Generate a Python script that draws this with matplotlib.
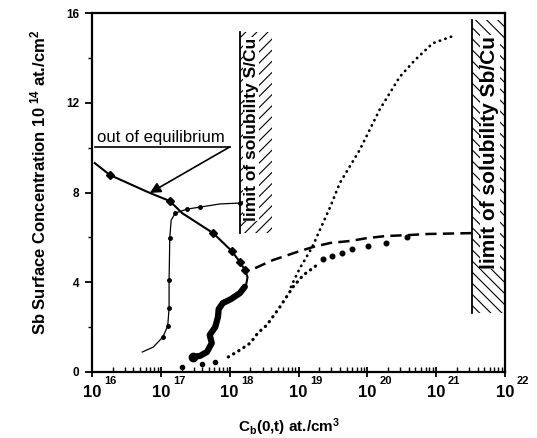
import numpy as np
import matplotlib
matplotlib.use('Agg')
import matplotlib.pyplot as plt
from matplotlib.ticker import FixedLocator, NullFormatter

plt.rcParams['font.family'] = ['Liberation Sans', 'DejaVu Sans']
plt.rcParams['mathtext.default'] = 'regular'
plt.rcParams['hatch.linewidth'] = 0.8

# x values are log10 of C_b(0,t) [at./cm3], y values in 1e14 at./cm2
eq_logc = [16.04, 16.26, 16.84, 17.13, 17.31, 17.76, 18.03, 18.15, 18.22, 18.26, 18.24, 18.18]
eq_ns = [9.31, 8.78, 7.98, 7.62, 7.08, 6.19, 5.39, 4.90, 4.55, 4.23, 3.90, 3.60]
diam_logc = [16.26, 17.13, 17.76, 18.03, 18.15, 18.22]
diam_ns = [8.78, 7.62, 6.19, 5.39, 4.90, 4.55]

blob_logc = [18.22, 18.15, 18.02, 17.90, 17.84, 17.83, 17.79, 17.71, 17.74, 17.67, 17.57, 17.47]
blob_ns = [3.80, 3.52, 3.25, 3.07, 2.80, 2.45, 2.00, 1.65, 1.29, 0.89, 0.72, 0.67]

scu_logc = [16.73, 16.89, 17.03, 17.10, 17.12, 17.12, 17.13, 17.15, 17.21, 17.38, 17.57, 17.86, 18.15]
scu_ns = [0.89, 1.11, 1.56, 2.05, 2.85, 4.10, 5.97, 6.77, 7.08, 7.26, 7.35, 7.49, 7.53]

steep_logc = [18.89, 18.95, 19.02, 19.09, 19.20, 19.31, 19.46, 19.60, 19.89, 20.18, 20.47, 20.69, 20.95, 21.27]
steep_ns = [3.79, 4.19, 4.63, 4.99, 5.57, 6.33, 7.35, 8.42, 9.90, 11.70, 13.15, 13.90, 14.65, 15.00]

low_sparse1_logc = [17.31, 17.60, 17.79]
low_sparse1_ns = [0.22, 0.36, 0.45]
low_dense_logc = [17.98, 18.15, 18.30, 18.41, 18.54, 18.73, 18.92, 19.07, 19.27]
low_dense_ns = [0.67, 0.98, 1.29, 1.74, 2.09, 2.90, 3.79, 4.32, 4.77]
low_sparse2_logc = [19.36, 19.49, 19.63, 19.78, 20.01, 20.27, 20.58]
low_sparse2_ns = [5.04, 5.17, 5.30, 5.48, 5.61, 5.75, 6.02]

dash_logc = [18.37, 18.63, 18.98, 19.21, 19.46, 19.75, 20.00, 20.27, 20.58, 20.87, 21.52]
dash_ns = [4.63, 4.99, 5.35, 5.57, 5.75, 5.84, 5.97, 6.06, 6.10, 6.15, 6.19]

scu_box = (18.15, 18.62, 6.2, 15.15)
sbcu_box = (21.52, 22.0, 2.63, 15.69)

x_exponents = [16, 17, 18, 19, 20, 21, 22]
y_major = [0, 4, 8, 12, 16]
y_minor = [2, 6, 10, 14]


def p(a):
    return 10 ** np.array(a)


fig = plt.figure(figsize=(5.37, 4.38), dpi=100)
ax = fig.add_axes([92 / 537, 1 - 372 / 438, 413 / 537, 359 / 438])
ax.set_xscale('log')
ax.set_xlim(1e16, 1e22)
ax.set_ylim(0, 16)

# limit of solubility boxes
for (x0, x1, y0, y1), h in [(scu_box, '///'), (sbcu_box, '\\\\\\')]:
    ax.fill_betweenx([y0, y1], 10 ** x0, 10 ** x1, facecolor='none',
                     edgecolor='k', hatch=h, linewidth=0)
    ax.plot([10 ** x0, 10 ** x0], [y0, y1], color='k', lw=1.3)

ax.text(10 ** 18.31, 10.83, 'limit of solubility S/Cu', rotation=90, ha='center', va='center',
        fontsize=12.5, fontweight='bold', bbox=dict(facecolor='white', edgecolor='none', pad=0.5))
ax.text(10 ** 21.78, 9.8, 'limit of solubility Sb/Cu', rotation=90, ha='center', va='center',
        fontsize=15, fontweight='bold', bbox=dict(facecolor='white', edgecolor='none', pad=0.5))

# curves
ax.plot(p(eq_logc), eq_ns, color='k', lw=1.5)
ax.plot(p(diam_logc), diam_ns, 'D', color='k', markersize=4.5)
ax.plot(p(blob_logc), blob_ns, color='k', lw=4.5, solid_capstyle='round', solid_joinstyle='round')
ax.plot(p(blob_logc[-1:]), blob_ns[-1:], 'o', color='k', markersize=6)
ax.plot(p(scu_logc), scu_ns, color='k', lw=0.9, marker='o', markersize=2.5, markevery=[2, 3, 4, 5, 6, 8, 9, 10, 12])
ax.plot(p(steep_logc), steep_ns, color='k', lw=2.0, ls=(0, (0.1, 2.0)), dash_capstyle='round')
ax.plot(p(low_dense_logc), low_dense_ns, color='k', lw=2.3, ls=(0, (0.1, 1.8)), dash_capstyle='round')
ax.plot(p(low_sparse1_logc), low_sparse1_ns, 'o', color='k', markersize=3)
ax.plot(p(low_sparse2_logc), low_sparse2_ns, 'o', color='k', markersize=3.3)
ax.plot(p(dash_logc), dash_ns, color='k', lw=1.8, ls=(0, (4.5, 2.5)))

# annotation
ax.text(10 ** 16.07, 10.25, 'out of equilibrium', fontsize=12, ha='left', va='baseline')
ax.plot([10 ** 16.04, 10 ** 18.0], [10.03, 10.03], color='k', lw=1.2)
ax.annotate('', xy=(10 ** 16.84, 7.98), xytext=(10 ** 18.0, 10.03),
            arrowprops=dict(arrowstyle='-|>', color='k', lw=1.2, mutation_scale=16, shrinkA=0, shrinkB=0))

# axes styling
for s in ax.spines.values():
    s.set_linewidth(1.6)
ax.xaxis.set_major_locator(FixedLocator([10.0 ** e for e in x_exponents]))
ax.set_xticklabels(['10'] * len(x_exponents))
ax.xaxis.set_minor_locator(FixedLocator([m * 10.0 ** e for e in x_exponents[:-1] for m in range(2, 10)]))
ax.xaxis.set_minor_formatter(NullFormatter())
ax.tick_params(axis='x', which='major', direction='inout', length=7, width=1.3, pad=6,
               labelsize=12)
ax.tick_params(axis='x', which='minor', direction='in', length=3.5, width=1.0)
for e in x_exponents:
    ax.annotate(str(e), xy=(10.0 ** e, 0), xycoords=('data', 'axes fraction'),
                xytext=(8.6, -8.6), textcoords='offset points', fontsize=8, fontweight='bold',
                ha='left', va='baseline', annotation_clip=False)

ax.set_yticks(y_major)
ax.set_yticks(y_minor, minor=True)
ax.tick_params(axis='y', which='major', direction='out', length=5, width=1.3, pad=4, labelsize=8.5)
ax.tick_params(axis='y', which='minor', direction='out', length=3, width=1.0)
for lab in ax.get_xticklabels() + ax.get_yticklabels():
    lab.set_fontweight('bold')

fig.text(38 / 537, 1 - 182 / 438, r'Sb Surface Concentration 10$^{\ 14}$ at./cm$^{2}$',
         rotation=90, ha='center', va='center', fontsize=12, fontweight='bold')
fig.text(238 / 537, 1 - 432 / 438, r'C$_b$(0,t) at./cm$^3$', ha='left', va='baseline',
         fontsize=11, fontweight='bold')

fig.savefig('out.png', dpi=100)
